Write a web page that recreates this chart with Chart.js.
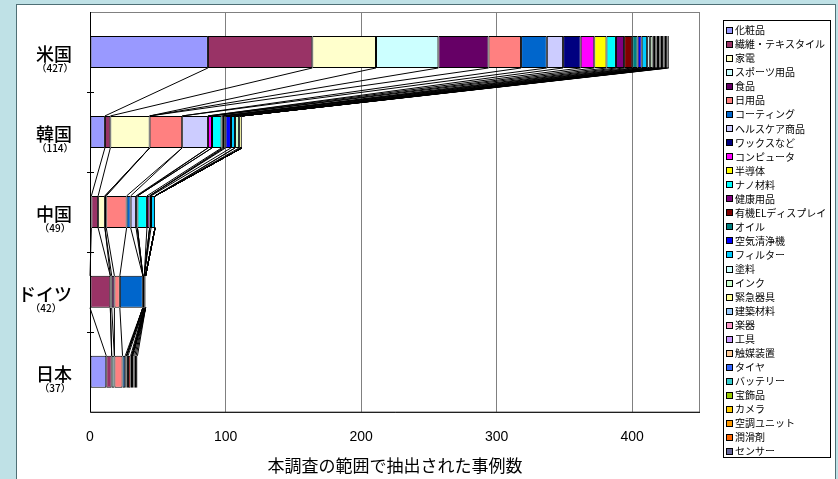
<!DOCTYPE html>
<html>
<head>
<meta charset="utf-8">
<script src="https://cdn.jsdelivr.net/npm/chart.js@4.4.1/dist/chart.umd.min.js"></script>
<style>
  body { margin: 0; background: #bfe1e6; }
  #panel {
    position: absolute; left: 16px; top: 4px; width: 818px; height: 475px;
    background: #fff; border: 1px solid #4f6f75; border-bottom: none;
  }
  #graficaPaises { position: absolute; left: 0; top: 0; }
</style>
</head>
<body>
<div id="panel"></div>
<canvas id="graficaPaises" width="838" height="479"></canvas>
<script>
// ======================
// DATOS
// ======================
const paises = ['米国', '韓国', '中国', 'ドイツ', '日本'];
const totales = ['（427）', '（114）', '（49）', '（42）', '（37）'];
const xTicks = [0, 100, 200, 300, 400];

const categorias = [
  '化粧品', '繊維・テキスタイル', '家電', 'スポーツ用品', '食品', '日用品',
  'コーティング', 'ヘルスケア商品', 'ワックスなど', 'コンピュータ', '半導体',
  'ナノ材料', '健康用品', '有機ELディスプレイ', 'オイル', '空気清浄機',
  'フィルター', '塗料', 'インク', '緊急器具', '建築材料', '楽器', '工具',
  '触媒装置', 'タイヤ', 'バッテリー', '宝飾品', 'カメラ', '空調ユニット',
  '潤滑剤', 'センサー'
];

// valores por categoria: [米国, 韓国, 中国, ドイツ, 日本]
const valores = [
  [87, 11, 1, 0, 12],   // 化粧品
  [77, 4, 5, 15, 4],    // 繊維・テキスタイル
  [47, 29, 5, 0, 0],    // 家電
  [46, 0, 0, 1, 2],     // スポーツ用品
  [37, 0, 1, 2, 0],     // 食品
  [24, 24, 15, 4, 6],   // 日用品
  [19, 0, 3, 17, 2],    // コーティング
  [12, 19, 4, 0, 1],    // ヘルスケア商品
  [13, 0, 1, 0, 0],     // ワックスなど
  [10, 3, 0, 0, 0],     // コンピュータ
  [9, 0, 0, 0, 0],      // 半導体
  [7, 7, 7, 1, 0],      // ナノ材料
  [6, 1, 2, 0, 1],      // 健康用品
  [6, 1, 0, 0, 2],      // 有機ELディスプレイ
  [4, 1, 0, 0, 1],      // オイル
  [3, 4, 1, 0, 0],      // 空気清浄機
  [4, 3, 3, 1, 0],      // フィルター
  [2, 0, 0, 0, 0],      // 塗料
  [2, 3, 0, 0, 0],      // インク
  [1, 2, 0, 0, 0],      // 緊急器具
  [1, 0, 0, 0, 0],      // 建築材料
  [1, 0, 0, 0, 0],      // 楽器
  [1, 0, 0, 0, 0],      // 工具
  [1, 0, 0, 0, 0],      // 触媒装置
  [1, 0, 0, 0, 0],      // タイヤ
  [1, 0, 0, 0, 0],      // バッテリー
  [1, 0, 0, 0, 0],      // 宝飾品
  [1, 0, 0, 0, 1],      // カメラ
  [1, 0, 0, 0, 1],      // 空調ユニット
  [1, 0, 0, 0, 1],      // 潤滑剤
  [1, 0, 0, 0, 1]       // センサー
];

// colores (paleta clasica de Excel)
const colores = [
  '#9999FF', '#993366', '#FFFFCC', '#CCFFFF', '#660066', '#FF8080',
  '#0066CC', '#CCCCFF', '#000080', '#FF00FF', '#FFFF00', '#00FFFF',
  '#800080', '#800000', '#008080', '#0000FF', '#00CCFF', '#CCFFFF',
  '#CCFFCC', '#FFFF99', '#99CCFF', '#FF99CC', '#CC99FF', '#FFCC99',
  '#3366FF', '#33CCCC', '#99CC00', '#FFCC00', '#FF9900', '#FF6600',
  '#666699'
];

const fuenteJP = '"Noto Sans CJK JP", "Noto Sans", sans-serif';

// lineas entre barras (series lines)
const lineasSerie = {
  id: 'lineasSerie',
  afterDatasetsDraw(chart) {
    const ctx = chart.ctx;
    ctx.save();
    ctx.strokeStyle = '#000';
    ctx.lineWidth = 1;
    chart.data.datasets.forEach((ds, d) => {
      const barras = chart.getDatasetMeta(d).data;
      for (let i = 0; i < barras.length - 1; i++) {
        const a = barras[i], b = barras[i + 1];
        ctx.beginPath();
        ctx.moveTo(a.x, a.y + a.height / 2);
        ctx.lineTo(b.x, b.y - b.height / 2);
        ctx.stroke();
      }
    });
    ctx.restore();
  }
};

// marco del area, eje y, etiquetas de pais y leyenda
const marco = {
  id: 'marco',
  afterDraw(chart) {
    const ctx = chart.ctx;
    const area = chart.chartArea;
    const ys = chart.scales.y;
    ctx.save();

    // borde del area de trazado
    ctx.strokeStyle = '#808080';
    ctx.lineWidth = 1;
    ctx.strokeRect(area.left + 0.5, area.top + 0.5, area.width - 1, area.height);

    // eje y + marcas entre categorias
    ctx.strokeStyle = '#000';
    ctx.beginPath();
    ctx.moveTo(area.left + 0.5, area.top);
    ctx.lineTo(area.left + 0.5, area.bottom + 0.5);
    ctx.lineTo(area.right, area.bottom + 0.5);
    const paso = area.height / paises.length;
    for (let i = 1; i < paises.length; i++) {
      const y = Math.round(area.top + paso * i) + 0.5;
      ctx.moveTo(area.left - 3, y);
      ctx.lineTo(area.left + 4, y);
    }
    ctx.stroke();

    // etiquetas de paises
    ctx.fillStyle = '#000';
    ctx.textBaseline = 'middle';
    ctx.textAlign = 'center';
    paises.forEach((nombre, i) => {
      const cy = ys.getPixelForValue(i);
      ctx.font = '500 18px ' + fuenteJP;
      const w = ctx.measureText(nombre).width;
      const cx = area.left - 18 - w / 2;
      ctx.fillText(nombre, cx, cy + 2);
      ctx.font = '500 10px ' + fuenteJP;
      ctx.fillText(totales[i], cx + 1, cy + 16);
    });

    // leyenda
    const lx = 723, ly = 20, lw = 107, lh = 437;
    ctx.fillStyle = '#fff';
    ctx.fillRect(lx, ly, lw, lh);
    ctx.strokeStyle = '#000';
    ctx.strokeRect(lx + 0.5, ly + 0.5, lw, lh);
    ctx.textAlign = 'left';
    ctx.font = '10px ' + fuenteJP;
    chart.data.datasets.forEach((ds, i) => {
      const y = ly + 10 + i * 14.03;
      const sy = Math.round(y - 3) + 0.5;
      ctx.fillStyle = ds.backgroundColor;
      ctx.fillRect(726, sy, 6, 6);
      ctx.strokeRect(726.5, sy, 6, 6);
      ctx.fillStyle = '#000';
      ctx.fillText(ds.label, 735, y + 0.5);
    });

    ctx.restore();
  }
};

function grafica_paises() {
  const el = document.getElementById('graficaPaises');
  if (!el) return;
  new Chart(el, {
    type: 'bar',
    data: {
      labels: paises,
      datasets: categorias.map((nombre, i) => ({
        label: nombre,
        data: valores[i],
        backgroundColor: colores[i],
        borderColor: '#000',
        borderWidth: 1,
        borderSkipped: false,
        barPercentage: 0.4,
        categoryPercentage: 1
      }))
    },
    options: {
      indexAxis: 'y',
      responsive: false,
      animation: false,
      layout: { padding: { left: 90, right: 138, top: 12, bottom: 0 } },
      plugins: {
        legend: { display: false },
        tooltip: { enabled: false }
      },
      scales: {
        x: {
          stacked: true,
          min: 0,
          max: 450,
          border: { display: false },
          grid: { color: '#808080', tickLength: 10, tickColor: 'transparent' },
          afterBuildTicks: axis => {
            axis.ticks = xTicks.map(v => ({ value: v }));
          },
          ticks: {
            color: '#000',
            padding: 7,
            font: { family: '"Liberation Sans", Arial, sans-serif', size: 14 }
          },
          title: {
            display: true,
            text: '本調査の範囲で抽出された事例数',
            color: '#000',
            padding: { top: 3, bottom: 3 },
            font: { family: fuenteJP, size: 17 }
          }
        },
        y: {
          stacked: true,
          display: false
        }
      }
    },
    plugins: [lineasSerie, marco]
  });
}

document.addEventListener('DOMContentLoaded', function () {
  grafica_paises();
});
</script>
</body>
</html>
